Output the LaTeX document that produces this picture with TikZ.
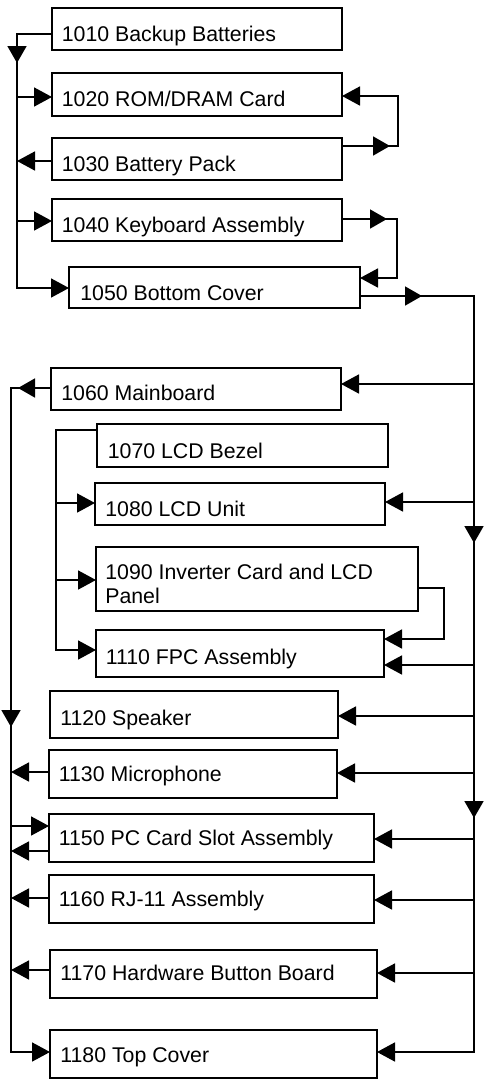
\documentclass[tikz,border=0pt]{standalone}
\usepackage{fontspec}
\setmainfont{Liberation Sans}
\usetikzlibrary{arrows.meta,decorations.markings}
\begin{document}
\begin{tikzpicture}[x=1pt,y=-1pt,line width=1.7pt,
  box/.style={draw,rectangle,inner sep=0pt,outer sep=0pt},
  lbl/.style={anchor=base west,inner sep=0pt,align=left,font=\fontsize{21.3}{23.5}\selectfont},
  arr/.style={-{Triangle[length=18pt,width=19pt]}},
  marrow/.style={postaction={decorate,decoration={markings,mark=at position #1 with {\arrow{Triangle[length=17pt,width=19pt]}}}}}]
\useasboundingbox (0,0) rectangle (483,1079);
% boxes
\node[box,minimum width=290pt,minimum height=42pt] (b1010) at (197,29) {};
\node[box,minimum width=290pt,minimum height=43pt] (b1020) at (197,94.5) {};
\node[box,minimum width=290pt,minimum height=42pt] (b1030) at (197,159) {};
\node[box,minimum width=290pt,minimum height=42pt] (b1040) at (197,220) {};
\node[box,minimum width=291pt,minimum height=41pt] (b1050) at (214.5,287.5) {};
\node[box,minimum width=290pt,minimum height=42pt] (b1060) at (196,389) {};
\node[box,minimum width=291pt,minimum height=43pt] (b1070) at (242.5,445.5) {};
\node[box,minimum width=290pt,minimum height=42pt] (b1080) at (240,504) {};
\node[box,minimum width=322pt,minimum height=64pt] (b1090) at (257,579) {};
\node[box,minimum width=288pt,minimum height=47pt] (b1110) at (240,653.5) {};
\node[box,minimum width=288pt,minimum height=47pt] (b1120) at (194,714.5) {};
\node[box,minimum width=288pt,minimum height=48pt] (b1130) at (193,774) {};
\node[box,minimum width=325pt,minimum height=48pt] (b1150) at (211.5,838) {};
\node[box,minimum width=325pt,minimum height=48pt] (b1160) at (211.5,899) {};
\node[box,minimum width=327pt,minimum height=48pt] (b1170) at (213.5,974) {};
\node[box,minimum width=327pt,minimum height=48pt] (b1180) at (213.5,1054) {};
% labels
\node[lbl] (t1010) at (61,41.7) {1010 Backup Batteries};
\node[lbl] (t1020) at (61,106.7) {1020 ROM/DRAM Card};
\node[lbl] (t1030) at (61,171.7) {1030 Battery Pack};
\node[lbl] (t1040) at (61,232.7) {1040 Keyboard Assembly};
\node[lbl] (t1050) at (79.5,300) {1050 Bottom Cover};
\node[lbl] (t1060) at (60.5,400.7) {1060 Mainboard};
\node[lbl] (t1070) at (107,458.3) {1070 LCD Bezel};
\node[lbl] (t1080) at (104.5,516.7) {1080 LCD Unit};
\node[lbl] (t1090) at (104.5,603) {1090 Inverter Card and LCD\\Panel};
\node[lbl] (t1110) at (105,664) {1110 FPC Assembly};
\node[lbl] (t1120) at (59.5,725) {1120 Speaker};
\node[lbl] (t1130) at (58,781.7) {1130 Microphone};
\node[lbl] (t1150) at (58,845.7) {1150 PC Card Slot Assembly};
\node[lbl] (t1160) at (58,906.5) {1160 RJ-11 Assembly};
\node[lbl] (t1170) at (59.5,980) {1170 Hardware Button Board};
\node[lbl] (t1180) at (59.5,1062.5) {1180 Top Cover};
% left bus A
\coordinate (a0) at (17,34);
\coordinate (a1) at (17,97);
\coordinate (a2) at (17,161);
\coordinate (a3) at (17,221);
\coordinate (a4) at (17,288);
\draw[arr,marrow=64pt] (a0 -| b1010.west) -- (a0) -- (a4) -- (a4 -| b1050.west);
\draw[arr] (a1) -- (a1 -| b1020.west);
\draw[arr] (a2 -| b1030.west) -- (a2);
\draw[arr] (a3) -- (a3 -| b1040.west);
% loop 1030 -> 1020
\coordinate (r1) at (398,96);
\coordinate (r2) at (398,146);
\draw[arr,marrow=48pt] (r2 -| b1030.east) -- (r2) -- (r1) -- (r1 -| b1020.east);
% loop 1040 -> 1050
\coordinate (r3) at (397,219);
\coordinate (r4) at (397,278);
\draw[arr,marrow=45pt] (r3 -| b1040.east) -- (r3) -- (r4) -- (r4 -| b1050.east);
% right bus
\coordinate (R0) at (474,296);
\coordinate (R9) at (474,1052);
\draw[arr,marrow=62pt,marrow=361pt,marrow=636pt] (R0 -| b1050.east) -- (R0) -- (R9) -- (R9 -| b1180.east);
\coordinate (R1) at (474,384);
\coordinate (R2) at (474,502);
\coordinate (R3) at (474,665);
\coordinate (R4) at (474,716);
\coordinate (R5) at (474,773);
\coordinate (R6) at (474,839);
\coordinate (R7) at (474,900);
\coordinate (R8) at (474,973);
\draw[arr] (R1) -- (R1 -| b1060.east);
\draw[arr] (R2) -- (R2 -| b1080.east);
\draw[arr] (R3) -- (R3 -| b1110.east);
\draw[arr] (R4) -- (R4 -| b1120.east);
\draw[arr] (R5) -- (R5 -| b1130.east);
\draw[arr] (R6) -- (R6 -| b1150.east);
\draw[arr] (R7) -- (R7 -| b1160.east);
\draw[arr] (R8) -- (R8 -| b1170.east);
% left bus B
\coordinate (L0) at (11,388);
\coordinate (L9) at (11,1052);
\draw[arr,marrow=33pt,marrow=379pt] (L0 -| b1060.west) -- (L0) -- (L9) -- (L9 -| b1180.west);
\coordinate (L1) at (11,772);
\coordinate (L2) at (11,826);
\coordinate (L3) at (11,851);
\coordinate (L4) at (11,898);
\coordinate (L5) at (11,970);
\draw[arr] (L1 -| b1130.west) -- (L1);
\draw[arr] (L2) -- (L2 -| b1150.west);
\draw[arr] (L3 -| b1150.west) -- (L3);
\draw[arr] (L4 -| b1160.west) -- (L4);
\draw[arr] (L5 -| b1170.west) -- (L5);
% LCD bus
\coordinate (M0) at (56,430);
\coordinate (M1) at (56,503);
\coordinate (M2) at (56,580);
\coordinate (M3) at (56,650);
\draw[arr] (M0 -| b1070.west) -- (M0) -- (M3) -- (M3 -| b1110.west);
\draw[arr] (M1) -- (M1 -| b1080.west);
\draw[arr] (M2) -- (M2 -| b1090.west);
% loop 1090 -> 1110
\coordinate (r5) at (444,588);
\coordinate (r6) at (444,639);
\draw[arr] (r5 -| b1090.east) -- (r5) -- (r6) -- (r6 -| b1110.east);
\end{tikzpicture}
\end{document}
